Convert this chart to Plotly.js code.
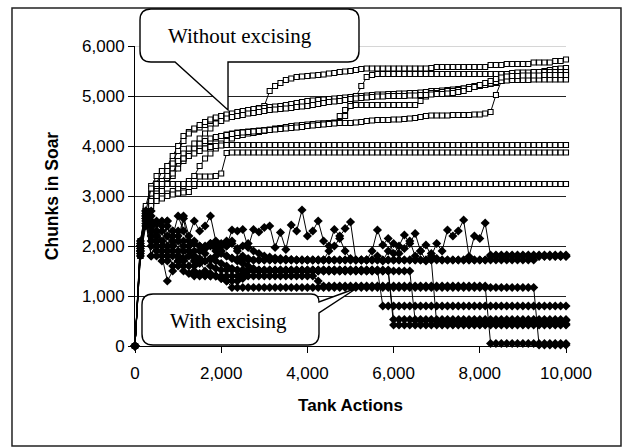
<!DOCTYPE html>
<html>
<head>
<meta charset="utf-8">
<script src="https://cdn.plot.ly/plotly-3.0.1.min.js"></script>
<style>html,body{margin:0;padding:0;background:#fff;}#chart{width:627px;height:448px;}</style>
</head>
<body>
<div id="chart"></div>
<script>
// Tank actions (x values shared by all runs)
const tankActions = [0,125,250,375,500,625,750,875,1000,1125,1250,1375,1500,1625,1750,1875,2000,2125,2250,2375,2500,2625,2750,2875,3000,3125,3250,3375,3500,3625,3750,3875,4000,4125,4250,4375,4500,4625,4750,4875,5000,5125,5250,5375,5500,5625,5750,5875,6000,6125,6250,6375,6500,6625,6750,6875,7000,7125,7250,7375,7500,7625,7750,7875,8000,8125,8250,8375,8500,8625,8750,8875,9000,9125,9250,9375,9500,9625,9750,9875,10000];

// ---- Without excising (open squares) ----
const noExcise1 = [0,2000,2700,3000,3250,3500,3600,3800,4000,4200,
 4280,4330,4370,4420,4500,4560,4600,4620,4640,4660,
 4680,4700,4720,4760,4800,5100,5200,5260,5320,5350,
 5380,5390,5400,5410,5420,5430,5450,5460,5480,5490,
 5500,5520,5540,5550,5550,5550,5550,5550,5550,5550,
 5550,5550,5550,5550,5550,5560,5580,5580,5580,5580,
 5580,5580,5580,5580,5580,5580,5620,5620,5620,5640,
 5640,5640,5640,5640,5670,5670,5670,5670,5700,5700,
 5730];
const noExcise2 = [0,1900,2600,2900,3100,3300,3500,3700,3900,4100,
 4250,4350,4420,4480,4530,4570,4600,4630,4650,4680,
 4700,4720,4740,4750,4760,4780,4790,4800,4820,4840,
 4860,4880,4900,4910,4920,4930,4940,4950,4960,4970,
 4980,4990,5000,5010,5020,5030,5030,5040,5040,5050,
 5050,5060,5060,5070,5080,5100,5100,5110,5120,5130,
 5140,5150,5160,5180,5200,5220,5240,5260,5300,5350,
 5380,5400,5420,5440,5460,5480,5500,5520,5540,5550,
 5560];
const noExcise3 = [0,1800,2700,2950,3050,3150,3250,3400,3550,3700,
 3800,3900,3980,4050,4100,4150,4200,4230,4250,4270,
 4280,4290,4300,4310,4320,4330,4350,4360,4370,4380,
 4390,4400,4410,4420,4440,4450,4460,4470,4480,4600,
 4800,5000,5200,5380,5420,5440,5440,5440,5440,5440,
 5440,5440,5440,5440,5440,5440,5440,5440,5440,5440,
 5440,5440,5440,5440,5440,5440,5440,5440,5440,5440,
 5440,5440,5440,5440,5440,5440,5440,5440,5440,5440,
 5440];
const noExcise4 = [0,1900,2600,2850,2950,3000,3050,3100,3150,3200,
 3300,3400,3600,3750,3850,3950,4050,4100,4150,4200,
 4220,4250,4260,4280,4300,4320,4340,4360,4380,4400,
 4410,4420,4430,4440,4450,4450,4460,4460,4460,4460,
 4460,4470,4480,4500,4510,4520,4520,4520,4530,4530,
 4540,4550,4560,4580,4600,4610,4610,4610,4610,4620,
 4620,4620,4620,4630,4630,4650,4680,5020,5300,5440,
 5460,5470,5470,5470,5480,5480,5480,5480,5480,5480,
 5480];
const noExcise5 = [0,2100,2750,3050,3200,3300,3400,3550,3650,3750,
 3850,3950,4050,4100,4150,4180,4200,4220,4240,4260,
 4270,4280,4290,4300,4310,4320,4330,4340,4350,4360,
 4370,4380,4400,4410,4420,4430,4440,4450,4600,4720,
 4800,4820,4820,4820,4820,4820,4820,4820,4820,4820,
 4820,4820,4820,4900,4990,5060,5060,5080,5100,5100,
 5120,5150,5180,5200,5200,5220,5250,5280,5300,5310,
 5320,5320,5320,5320,5330,5330,5330,5330,5330,5330,
 5330];
const noExcise6 = [0,1850,2650,2900,3000,3100,3250,3450,3700,3850,
 3950,4050,4150,4250,4350,4450,4500,4550,4580,4600,
 4620,4650,4660,4680,4700,4720,4730,4740,4750,4760,
 4780,4790,4800,4820,4840,4860,4880,4890,4900,4920,
 4940,4950,4960,4970,4980,4990,4990,5000,5000,5000,
 5000,5010,5010,5020,5020,5030,5040,5040,5050,5060,
 5080,5100,5140,5180,5220,5260,5300,5340,5370,5390,
 5400,5400,5410,5410,5410,5410,5420,5420,5420,5420,
 5420];
const noExcise7 = [0,2000,2800,3200,3400,3500,3600,3650,3700,3750,
 3800,3850,3900,3950,3980,4000,4010,4020,4020,4020,
 4020,4020,4020,4020,4020,4020,4020,4020,4020,4020,
 4020,4020,4020,4020,4020,4020,4020,4020,4020,4020,
 4020,4020,4020,4020,4020,4020,4020,4020,4020,4020,
 4020,4020,4020,4020,4020,4020,4020,4020,4020,4020,
 4020,4020,4020,4020,4020,4020,4020,4020,4020,4020,
 4020,4020,4020,4020,4020,4020,4020,4020,4020,4020,
 4020];
const noExcise8 = [0,1900,2600,2800,2900,2950,3000,3030,3050,3070,
 3080,3200,3390,3390,3390,3400,3450,3860,3870,3870,
 3870,3870,3870,3870,3870,3870,3870,3870,3870,3870,
 3870,3870,3870,3870,3870,3870,3870,3870,3870,3870,
 3870,3870,3870,3870,3870,3870,3870,3870,3870,3870,
 3870,3870,3870,3870,3870,3870,3870,3870,3870,3870,
 3870,3870,3870,3870,3870,3870,3870,3870,3870,3870,
 3870,3870,3870,3870,3870,3870,3870,3870,3870,3870,
 3870];
const noExcise9 = [0,1800,2700,3150,3240,3240,3240,3240,3240,3240,
 3240,3240,3240,3240,3240,3240,3240,3240,3240,3240,
 3240,3240,3240,3240,3240,3240,3240,3240,3240,3240,
 3240,3240,3240,3240,3240,3240,3240,3240,3240,3240,
 3240,3240,3240,3240,3240,3240,3240,3240,3240,3240,
 3240,3240,3240,3240,3240,3240,3240,3240,3240,3240,
 3240,3240,3240,3240,3240,3240,3240,3240,3240,3240,
 3240,3240,3240,3240,3240,3240,3240,3240,3240,3240,
 3240];

// ---- With excising (filled diamonds) ----
const excise1 = [0,2000,2650,2300,1800,2500,2000,2300,1900,2550,
 2000,1700,1750,1700,1720,1700,1650,1600,1550,1520,
 1520,1520,1520,1520,1520,1520,1520,1520,1520,1520,
 1520,1520,1520,1520,1520,1520,1520,1520,1520,1520,
 1520,1520,1520,1520,1520,1520,800,800,800,800,
 800,800,800,800,800,800,800,800,800,800,
 800,800,800,800,800,800,800,800,800,800,
 800,800,800,800,800,800,800,800,800,800,
 800];
const excise2 = [0,1900,2500,1800,2100,1700,1900,1600,1800,1500,
 1450,1400,1400,1400,1400,1400,1400,1400,1400,1400,
 1450,1500,1500,1500,1500,1500,1500,1500,1500,1500,
 1500,1500,1500,1500,1500,1500,1500,1500,1500,1500,
 1500,1500,1500,1500,1500,1500,1500,1500,420,420,
 420,420,420,420,420,420,420,420,420,420,
 420,420,420,420,420,420,420,420,420,420,
 420,420,420,420,420,420,420,420,420,420,
 420];
const excise3 = [0,2100,2700,2400,1900,2300,1800,2100,1700,2000,
 1600,1800,1650,1700,1600,1550,1520,1520,1520,1520,
 1520,1520,1520,1520,1520,1520,1520,1520,1520,1520,
 1520,1520,1520,1520,1520,1520,1520,1520,1520,1520,
 1520,1520,1520,1520,1520,1520,1520,1520,530,530,
 530,530,530,530,530,530,530,530,530,530,
 530,530,530,530,530,530,530,530,530,530,
 530,530,530,530,530,530,530,530,530,530,
 530];
const excise4 = [0,1800,2400,2600,2000,1800,1300,1500,1700,1600,
 1800,1900,2000,1950,2050,2000,1900,1800,1750,1700,
 1650,1600,1550,1500,1500,1500,1500,1500,1500,1500,
 1500,1500,1500,1500,1500,1500,1500,1500,1500,1500,
 1500,1500,1500,1500,1500,1500,1500,1500,1500,1500,
 1500,1500,510,510,510,510,510,510,510,510,
 510,510,510,510,510,510,510,510,510,510,
 510,510,510,510,510,510,510,510,510,510,
 510];
const excise5 = [0,2000,2600,2200,2500,1900,2400,2000,2200,1900,
 2100,2050,2000,1950,2000,1900,1850,1800,1760,1740,
 1720,1720,1720,1720,1720,1720,1720,1720,1720,1720,
 1720,1720,1720,1720,1720,1720,1720,1720,1720,1720,
 1720,1720,1720,1720,1720,1720,1720,1720,1720,1720,
 1720,1720,1720,1720,1720,1720,440,440,440,440,
 440,440,440,440,440,440,440,440,440,440,
 440,440,440,440,440,440,440,440,440,440,
 440];
const excise6 = [0,1950,2550,2000,2300,2100,1700,2000,1800,2100,
 1900,1500,1450,1420,1400,1400,1350,1300,1300,1300,
 1350,1400,1400,1400,1400,1400,1400,1400,1400,1400,
 1400,1400,1400,1400,1300,1200,1200,1200,1200,1200,
 1200,1200,1200,1200,1200,1200,1200,1200,1200,1200,
 1200,1200,1200,1200,1200,1200,1200,1200,1200,1200,
 1200,1200,1200,1200,1200,1200,50,50,50,50,
 50,50,50,50,50,50,50,50,50,50,
 50];
const excise7 = [0,1850,2450,2700,2200,2000,2500,1800,2300,1700,
 1900,1600,1700,1500,1450,1400,1350,1300,1170,1170,
 1170,1170,1170,1170,1170,1170,1170,1170,1170,1170,
 1170,1170,1170,1170,1170,1170,1170,1170,1170,1170,
 1170,1170,1170,1170,1170,1170,1170,1170,1170,1170,
 1170,1170,1170,1170,1170,1170,1170,1170,1170,1170,
 1170,1170,1170,1170,1170,1170,1170,1170,1170,1170,
 1170,1170,1170,1170,1170,20,20,20,20,20,
 20];
const excise8 = [0,2050,2700,2500,2100,2400,2500,2200,2600,2300,
 2000,2100,1900,2000,2050,1950,1900,2000,2100,1950,
 2000,2050,1900,1850,1800,1780,1760,1750,1740,1730,
 1720,1720,1720,1720,1720,1720,1720,1720,1720,1720,
 1720,1720,1720,1720,1900,2320,2020,2150,1850,2000,
 2220,2050,2250,1900,2020,1800,2050,1900,2320,2200,
 2300,2520,1790,2200,2150,2460,1800,1800,1800,1800,
 1800,1800,1800,1800,1800,1800,1800,1800,1800,1800,
 1800];
const excise9 = [0,1900,2600,2100,2450,2000,1800,2300,2100,2600,
 2200,2500,2300,2400,2600,2100,2050,2000,2320,2300,
 2330,1970,2330,2280,2370,2400,1970,2270,1930,2420,
 2300,2720,2200,2300,2500,2100,2000,2330,2200,2350,
 2480,1720,1720,1720,1720,1720,1720,1720,1720,1720,
 1720,1720,1720,1720,1720,1720,1720,1720,1720,1720,
 1720,1720,1720,1720,1720,1720,1720,1720,1720,1720,
 1720,1720,1720,1720,1720,1790,1790,1790,1790,1790,
 1790];
const excise10 = [0,2000,2550,1800,2100,1900,2200,1900,1600,1750,
 1900,1800,1700,1850,1750,1800,2000,2100,2050,1900,
 1800,1750,1720,1720,1720,1720,1720,1720,1720,1720,
 1720,1720,1720,1720,1720,1720,1900,2000,2150,1900,
 1750,1720,1720,1720,1720,1800,1700,1900,2050,1850,
 1950,2100,1800,1900,1700,1850,1750,1720,1720,1720,
 1720,1720,1720,1720,1720,1720,1820,1820,1820,1820,
 1820,1820,1820,1820,1820,1820,1820,1820,1820,1820,
 1820];

const xTickVals = [0,2000,4000,6000,8000,10000];
const yTickVals = [0,1000,2000,3000,4000,5000,6000];
const xTitle = 'Tank Actions';
const yTitle = 'Chunks in Soar';
const calloutTop = 'Without excising';
const calloutBottom = 'With excising';

const squareRuns = [noExcise1,noExcise2,noExcise3,noExcise4,noExcise5,noExcise6,noExcise7,noExcise8,noExcise9];
const diamondRuns = [excise1,excise2,excise3,excise4,excise5,excise6,excise7,excise8,excise9,excise10];

const traces = [];
squareRuns.forEach(y => traces.push({
  x: tankActions, y: y, type: 'scatter', mode: 'lines+markers', cliponaxis: false,
  line: {color: '#000', width: 1},
  marker: {symbol: 'square', size: 5, color: '#fff', line: {color: '#000', width: 1.1}},
  hoverinfo: 'skip', showlegend: false
}));
diamondRuns.forEach(y => traces.push({
  x: tankActions, y: y, type: 'scatter', mode: 'lines+markers', cliponaxis: false,
  line: {color: '#000', width: 1},
  marker: {symbol: 'diamond', size: 7, color: '#000', line: {color: '#000', width: 0}},
  hoverinfo: 'skip', showlegend: false
}));

// plot area geometry (pixels) for callout placement
const L = 135, T = 46, W = 431, H = 300;
const px = x => ((x - L) / W).toFixed(4);
const py = y => ((T + H - y) / H).toFixed(4);
function P(x, y) { return px(x) + ',' + py(y); }

function calloutDown(l, t, r, b, rad, bx0, bx1, tipx, tipy) {
  return 'M' + P(l + rad, t) + ' L' + P(r - rad, t) + ' Q' + P(r, t) + ' ' + P(r, t + rad) +
    ' L' + P(r, b - rad) + ' Q' + P(r, b) + ' ' + P(r - rad, b) +
    ' L' + P(bx1, b) + ' L' + P(tipx, tipy) + ' L' + P(bx0, b) +
    ' L' + P(l + rad, b) + ' Q' + P(l, b) + ' ' + P(l, b - rad) +
    ' L' + P(l, t + rad) + ' Q' + P(l, t) + ' ' + P(l + rad, t) + ' Z';
}
function calloutRight(l, t, r, b, rad, rad2, by1, tipx, tipy) {
  return 'M' + P(l + rad, t) + ' L' + P(r - rad2, t) + ' Q' + P(r, t) + ' ' + P(r, t + rad2) +
    ' L' + P(tipx, tipy) + ' L' + P(r, by1) +
    ' L' + P(r, b - rad) + ' Q' + P(r, b) + ' ' + P(r - rad, b) +
    ' L' + P(l + rad, b) + ' Q' + P(l, b) + ' ' + P(l, b - rad) +
    ' L' + P(l, t + rad) + ' Q' + P(l, t) + ' ' + P(l + rad, t) + ' Z';
}

const axisFont = {family: 'Arial, "Liberation Sans", sans-serif', size: 17, color: '#000'};

const layout = {
  width: 627, height: 448,
  margin: {l: 135, r: 61, t: 46, b: 102, pad: 0},
  paper_bgcolor: '#fff', plot_bgcolor: '#fff',
  showlegend: false,
  font: axisFont,
  xaxis: {
    range: [0, 10000], tickvals: xTickVals, tickformat: ',d',
    showgrid: false, zeroline: false, showline: true, linecolor: '#000', linewidth: 1,
    ticks: 'outside', ticklen: 6, tickcolor: '#000', tickfont: axisFont, ticklabelstandoff: 6,
    automargin: false, fixedrange: true,
    title: {text: '<b>' + xTitle + '</b>', font: {family: axisFont.family, size: 17, color: '#000'}, standoff: 16}
  },
  yaxis: {
    range: [0, 6000], tickvals: yTickVals, tickformat: ',d',
    showgrid: true, gridcolor: '#222', gridwidth: 1,
    zeroline: false, showline: true, linecolor: '#000', linewidth: 1,
    ticks: 'outside', ticklen: 6, tickcolor: '#000', tickfont: axisFont,
    automargin: false, fixedrange: true,
    title: {text: '<b>' + yTitle + '</b>', font: {family: axisFont.family, size: 17.5, color: '#000'}, standoff: 18}
  },
  shapes: [
    {type: 'line', xref: 'paper', yref: 'y', x0: 0, x1: 1, y0: 6000, y1: 6000, layer: 'between',
     line: {color: '#c8c8c8', width: 1.5}},
    {type: 'rect', xref: 'paper', yref: 'paper', x0: px(12), x1: px(621), y0: py(446), y1: py(8),
     line: {color: '#222', width: 1.5}, fillcolor: 'rgba(0,0,0,0)', layer: 'above'},
    {type: 'path', xref: 'paper', yref: 'paper', layer: 'above',
     path: calloutDown(140, 9, 359, 62, 11, 175, 228, 228, 110),
     fillcolor: '#fff', line: {color: '#000', width: 1.4}},
    {type: 'path', xref: 'paper', yref: 'paper', layer: 'above',
     path: calloutRight(142, 294, 319, 345, 11, 8, 313, 357, 288),
     fillcolor: '#fff', line: {color: '#000', width: 1.4}}
  ],
  annotations: [
    {xref: 'paper', yref: 'paper', x: px(240), y: py(36), xanchor: 'center', yanchor: 'middle', showarrow: false,
     text: calloutTop, font: {family: '"Liberation Serif", "Times New Roman", serif', size: 21, color: '#000'}},
    {xref: 'paper', yref: 'paper', x: px(228), y: py(321), xanchor: 'center', yanchor: 'middle', showarrow: false,
     text: calloutBottom, font: {family: '"Liberation Serif", "Times New Roman", serif', size: 21, color: '#000'}}
  ]
};

Plotly.newPlot('chart', traces, layout, {staticPlot: true, displayModeBar: false});
</script>
</body>
</html>
